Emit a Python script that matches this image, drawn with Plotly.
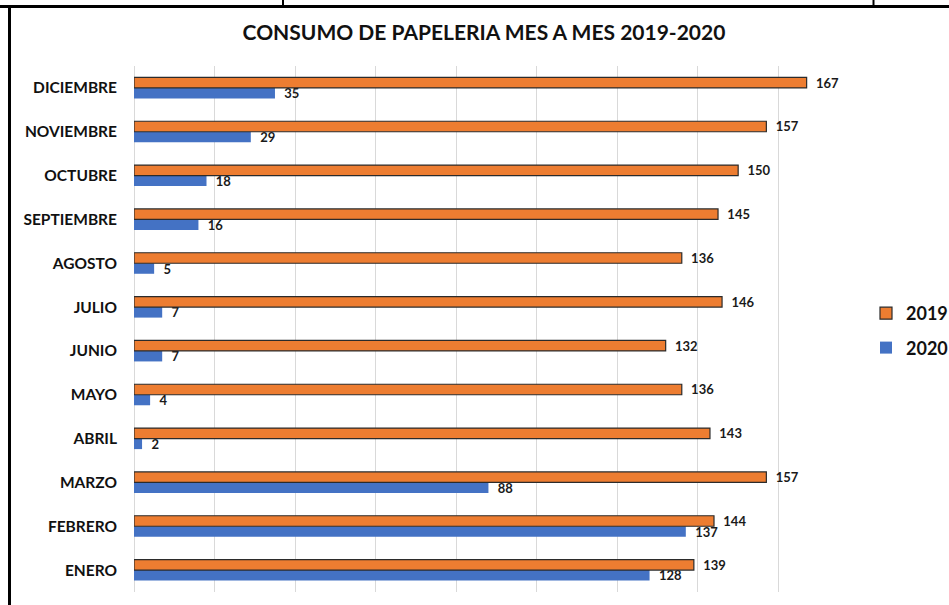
import plotly.graph_objects as go

months = ["ENERO", "FEBRERO", "MARZO", "ABRIL", "MAYO", "JUNIO", "JULIO",
          "AGOSTO", "SEPTIEMBRE", "OCTUBRE", "NOVIEMBRE", "DICIEMBRE"]
values_2019 = [139, 144, 157, 143, 136, 132, 146, 136, 145, 150, 157, 167]
values_2020 = [128, 137, 88, 2, 4, 7, 7, 5, 16, 18, 29, 35]

W, H = 949, 605
L, R, T, B = 134, 859, 66, 592

def px(x):
    return (x - L) / (R - L)

def py(y):
    return (B - y) / (B - T)

FONT = "Lato"
lbl_font = dict(family=FONT, size=13, color="#1a1a1a")

fig = go.Figure()
fig.add_trace(go.Bar(
    y=months, x=values_2020, name="<b>2020</b>", orientation="h",
    marker=dict(color="#4472C4", line=dict(width=0)),
    text=values_2020, texttemplate="<b>\u00a0\u00a0%{x}</b>", textposition="outside",
    textfont=lbl_font, outsidetextfont=lbl_font, constraintext="none",
    cliponaxis=False, legendrank=2, legendgroup="g2020",
))
fig.add_trace(go.Bar(
    y=months, x=values_2019, name="<b>2019</b>", orientation="h",
    marker=dict(color="#ED7D31", line=dict(width=1.2, color="#2b2b2b")),
    text=values_2019, texttemplate="<b>\u00a0\u00a0%{x}</b>", textposition="outside",
    textfont=lbl_font, outsidetextfont=lbl_font, constraintext="none",
    cliponaxis=False, legendrank=1, legendgroup="g2019",
))

shapes = [
    dict(type="line", xref="paper", yref="paper", x0=px(0), x1=px(W),
         y0=py(6.5), y1=py(6.5), line=dict(color="black", width=3)),
    dict(type="line", xref="paper", yref="paper", x0=px(9.5), x1=px(9.5),
         y0=py(6.5), y1=py(W), line=dict(color="black", width=3)),
    dict(type="line", xref="paper", yref="paper", x0=px(283), x1=px(283),
         y0=py(0), y1=py(5), line=dict(color="black", width=2)),
    dict(type="line", xref="paper", yref="paper", x0=px(873.5), x1=px(873.5),
         y0=py(0), y1=py(5), line=dict(color="black", width=2)),
]

fig.update_layout(
    width=W, height=H,
    margin=dict(l=L, r=W - R, t=T, b=H - B, pad=0, autoexpand=False),
    paper_bgcolor="white", plot_bgcolor="white",
    barmode="group", bargap=0.52, bargroupgap=0,
    title=dict(text="<b>CONSUMO DE PAPELERIA MES A MES 2019-2020</b>",
               x=484 / W, xanchor="center", xref="container",
               y=1 - 33 / H, yanchor="middle", yref="container",
               font=dict(family=FONT, size=21, color="#111")),
    xaxis=dict(range=[0, 180], dtick=20, showticklabels=False,
               showgrid=True, gridcolor="#d9d9d9", gridwidth=1,
               zeroline=True, zerolinecolor="#d9d9d9", zerolinewidth=1,
               showline=False, fixedrange=True, automargin=False),
    yaxis=dict(type="category", categoryorder="array", categoryarray=months,
               showgrid=False, showline=False, zeroline=False,
               ticks="", ticklabelstandoff=16, automargin=False,
               tickfont=dict(family=FONT, size=15.5, color="#111"),
               tickprefix="<b>", ticksuffix="</b>", fixedrange=True),
    legend=dict(x=866 / W, y=1 - 295 / H, xanchor="left", yanchor="top",
                xref="container", yref="container",
                traceorder="grouped", tracegroupgap=8,
                font=dict(family=FONT, size=18, color="#111"),
                itemwidth=30, bgcolor="rgba(0,0,0,0)"),
    shapes=shapes,
    showlegend=True,
    hovermode=False,
)

fig.write_html("out.html",
               config={"displayModeBar": False, "staticPlot": False},
               post_script="document.body.style.margin='0';document.body.style.padding='0';")
